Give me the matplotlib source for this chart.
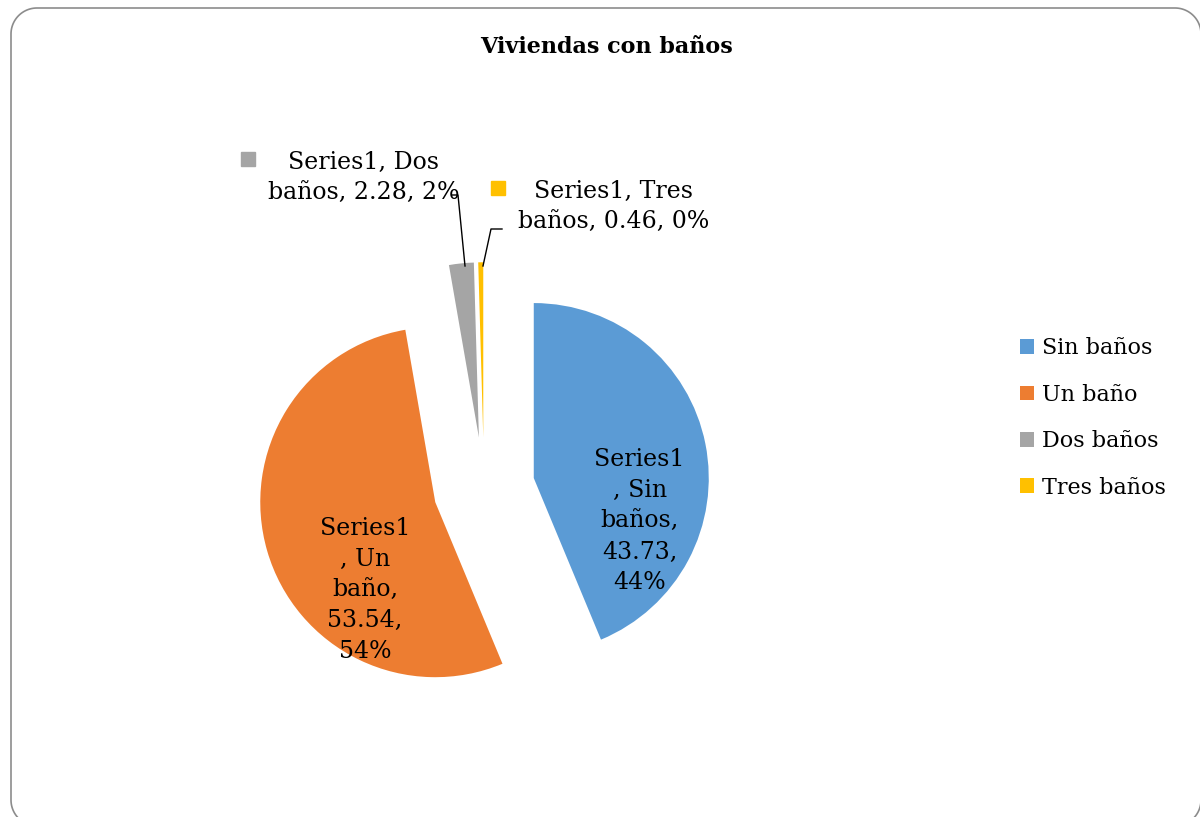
import numpy as np
import matplotlib
matplotlib.use('Agg')
import matplotlib.pyplot as plt
from matplotlib.patches import Patch, PathPatch
from matplotlib.path import Path
from matplotlib.transforms import IdentityTransform

plt.rcParams['font.family'] = ['DejaVu Serif']

categories = ['Sin baños', 'Un baño', 'Dos baños', 'Tres baños']
values = [43.73, 53.54, 2.28, 0.46]
percents = ['44%', '54%', '2%', '0%']
colors = ['#5B9BD5', '#ED7D31', '#A5A5A5', '#FFC000']

W, H = 1200, 817
R = 175.0          # pie radius in pixels
CX, CY = 484, 488  # pie centre in pixels (from top-left)

fig = plt.figure(figsize=(W / 100, H / 100), dpi=100)


def rounded_rect(x0, y0, x1, y1, r, n=30):
    # polyline rounded rectangle in pixel coords (y up)
    pts = []
    corners = [(x1 - r, y1 - r, 0), (x0 + r, y1 - r, 90),
               (x0 + r, y0 + r, 180), (x1 - r, y0 + r, 270)]
    for cx, cy, a0 in corners:
        t = np.radians(np.linspace(a0, a0 + 90, n))
        pts.extend(zip(cx + r * np.cos(t), cy + r * np.sin(t)))
    pts.append(pts[0])
    return Path(pts)


# chart border, partly outside the picture like the source
border = PathPatch(rounded_rect(11, H - 826, 1201, H - 8, 26),
                   transform=IdentityTransform(), fill=False,
                   edgecolor='#8c8c8c', linewidth=1.2)
fig.patches.append(border)

ax = fig.add_axes([0, 0, 1, 1])

explode = [0.29] * len(values)
wedges, _ = ax.pie(values, colors=colors, startangle=90, counterclock=False,
                   explode=explode, radius=1.0,
                   wedgeprops=dict(linewidth=0))
ax.set_aspect('auto')
ax.set_xlim(-CX / R, (W - CX) / R)
ax.set_ylim(-(H - CY) / R, CY / R)
ax.axis('off')

fs = 17
ls = 1.43
# inside labels
ax.text(0.89, -0.19, 'Series1\n, Sin\nbaños,\n%.2f,\n%s' % (values[0], percents[0]),
        ha='center', va='center', fontsize=fs, linespacing=ls)
ax.text(-0.68, -0.583, 'Series1\n, Un\nbaño,\n%.2f,\n%s' % (values[1], percents[1]),
        ha='center', va='center', fontsize=fs, linespacing=ls)


def px(x, y):
    return (x - CX) / R, (CY - y) / R


# outside labels with leader lines
lx, ly = px(364, 178)
ax.text(lx, ly, 'Series1, Dos\nbaños, %.2f, %s' % (values[2], percents[2]),
        ha='center', va='center', fontsize=fs, linespacing=ls)
kx, ky = px(248, 159)
ax.plot([kx], [ky], marker='s', markersize=10, color=colors[2], linestyle='none')
pts = [px(452, 195), px(458, 195), px(465, 266)]
ax.plot([p[0] for p in pts], [p[1] for p in pts], color='black', linewidth=1)

lx, ly = px(614, 207)
ax.text(lx, ly, 'Series1, Tres\nbaños, %.2f, %s' % (values[3], percents[3]),
        ha='center', va='center', fontsize=fs, linespacing=ls)
kx, ky = px(498, 188)
ax.plot([kx], [ky], marker='s', markersize=10, color=colors[3], linestyle='none')
pts = [px(502, 229), px(491, 229), px(483, 266)]
ax.plot([p[0] for p in pts], [p[1] for p in pts], color='black', linewidth=1)

fig.text(607 / W, 1 - 47 / H, 'Viviendas con baños', ha='center', va='center',
         fontsize=16, fontweight='bold')

handles = [Patch(facecolor=c, edgecolor='none') for c in colors]
fig.legend(handles, categories, loc='center left', bbox_to_anchor=(1020 / W, 1 - 418 / H),
           frameon=False, fontsize=16, handlelength=0.65, handleheight=0.65,
           handletextpad=0.35, labelspacing=1.1, borderpad=0, borderaxespad=0)

fig.savefig('out.png', dpi=100)
